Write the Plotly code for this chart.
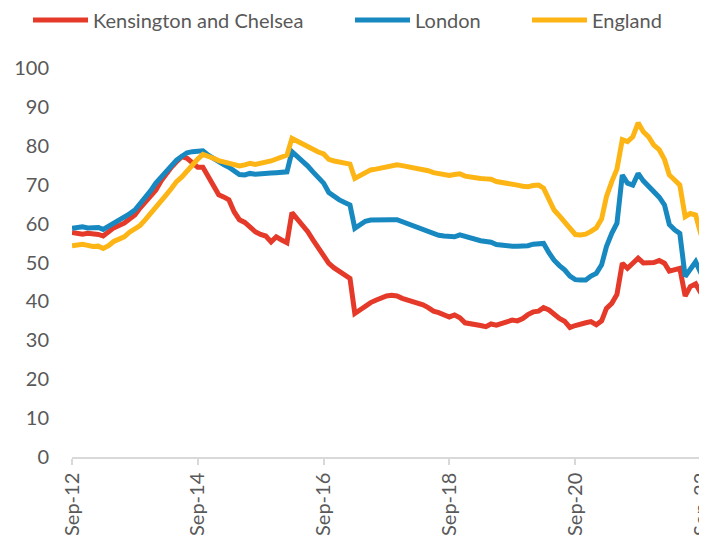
import pandas as pd
import plotly.graph_objects as go

start_month = "2012-09-01"
n_months = 121
tick_labels = ["Sep-12", "Sep-14", "Sep-16", "Sep-18", "Sep-20", "Sep-22"]
series_names = ["Kensington and Chelsea", "London", "England"]

kensington = [
    57.7, 57.5, 57.3, 57.5, 57.5, 57.2, 56.8, 57.8, 58.9, 59.5,
    60.1, 61.2, 62.2, 64.0, 65.6, 67.0, 68.6, 71.0, 72.9, 74.5,
    75.9, 77.2, 76.8, 75.5, 74.5, 74.5, 72.1, 70.0, 67.4, 66.8,
    66.1, 63.0, 61.0, 60.3, 59.0, 57.9, 57.2, 56.8, 55.3, 56.6,
    55.8, 55.1, 62.8, 61.2, 59.3, 57.9, 55.8, 53.6, 51.9, 49.8,
    48.6, 47.6, 46.7, 45.9, 36.9, 37.9, 38.9, 39.7, 40.3, 40.9,
    41.4, 41.6, 41.4, 40.8, 40.4, 40.0, 39.5, 39.1, 38.4, 37.5,
    37.1, 36.6, 36.0, 36.5, 35.8, 34.5, 34.3, 34.3, 33.8, 33.5,
    34.2, 33.9, 34.3, 35.0, 35.2, 35.0, 35.6, 36.6, 37.3, 37.5,
    38.4, 37.8, 36.7, 35.6, 34.9, 33.3, 33.8, 34.3, 34.5, 34.8,
    34.0, 35.0, 38.2, 39.5, 41.8, 49.8, 48.5, 49.8, 51.1, 49.9,
    49.8, 50.0, 50.5, 49.8, 47.8, 48.3, 48.5, 41.4, 43.8, 44.5,
    42.1,
]

london = [
    58.8, 59.0, 59.2, 58.9, 59.0, 59.0, 58.5, 59.3, 60.1, 60.8,
    61.4, 62.5, 63.5, 65.0, 66.5, 68.4, 70.4, 72.0, 73.5, 74.8,
    76.3, 77.3, 78.2, 78.5, 78.7, 78.7, 77.6, 76.7, 75.9, 75.1,
    74.5, 73.5, 72.6, 72.5, 72.9, 72.7, 72.7, 72.9, 73.0, 73.1,
    73.1, 73.3, 78.5, 77.3, 76.3, 74.8, 73.3, 71.8, 70.4, 68.0,
    66.9, 66.1, 65.4, 64.8, 58.8, 59.8, 60.6, 60.9, 61.0, 61.1,
    61.0, 61.0, 61.0, 60.5, 60.1, 59.6, 59.0, 58.4, 57.9, 57.3,
    57.0, 56.8, 56.7, 56.6, 57.1, 56.7, 56.2, 55.9, 55.6, 55.4,
    55.2, 54.6, 54.4, 54.3, 54.2, 54.2, 54.1, 54.3, 54.7, 54.9,
    54.9, 52.5, 50.6, 49.2, 48.1, 46.5, 45.6, 45.5, 45.5, 46.5,
    47.2, 49.4, 54.1, 57.5, 60.1, 72.5, 70.4, 69.9, 72.9, 71.0,
    69.5, 68.2, 66.8, 64.8, 59.8, 58.4, 57.5, 46.4, 48.5, 50.2,
    47.2,
]

england = [
    54.3, 54.5, 54.7, 54.4, 54.1, 54.2, 53.6, 54.3, 55.4, 56.0,
    56.6, 57.8, 58.6, 59.5, 61.0, 62.5, 64.0, 65.6, 67.3, 69.0,
    70.8, 72.0, 73.6, 75.0, 76.6, 77.8, 77.4, 76.8, 76.2, 75.8,
    75.4, 75.1, 74.8, 75.1, 75.5, 75.2, 75.4, 75.7, 76.1, 76.6,
    77.0, 77.6, 81.9, 81.2, 80.5, 79.6, 78.8, 78.4, 77.9, 76.5,
    76.1, 75.9, 75.8, 75.3, 71.6, 72.4, 73.2, 73.8, 74.0, 74.2,
    74.4, 74.8, 75.1, 74.9, 74.7, 74.5, 74.1, 73.8, 73.6, 73.1,
    72.9, 72.9, 72.4, 72.6, 72.8, 72.2, 71.9, 71.7, 71.6, 71.5,
    71.4, 70.8, 70.5, 70.3, 70.1, 69.9, 69.6, 69.5, 69.8, 69.9,
    69.1, 66.0, 63.5, 62.0, 60.5, 58.5, 57.2, 57.1, 57.3, 58.0,
    58.9, 61.2, 66.9, 70.8, 74.0, 81.6, 81.1, 82.3, 85.9, 83.6,
    82.3, 80.2, 79.0, 76.5, 72.5, 71.2, 69.9, 61.8, 62.6, 62.2,
    57.1,
]

colors = ["#E53A29", "#1789C0", "#FDB515"]

dates = pd.date_range(start_month, periods=n_months, freq="MS")
tick_dates = pd.date_range(start_month, periods=len(tick_labels), freq="24MS")

FONT = "Lato, 'DejaVu Sans', sans-serif"
GREY = "#595959"

# page body has an 8px default margin: figure is sized to end at the window edge
W, H = 699, 527

fig = go.Figure()
legend_ids = ["legend", "legend2", "legend3"]
for name, vals, col, lg in zip(series_names, [kensington, london, england], colors, legend_ids):
    fig.add_trace(go.Scatter(
        x=dates, y=vals, name=name, mode="lines",
        line=dict(color=col, width=5), legend=lg, showlegend=True,
    ))

legend_common = dict(
    orientation="h", xref="container", yref="container",
    yanchor="middle", y=1 - 12 / H, xanchor="left",
    font=dict(family=FONT, size=20, color=GREY),
    bgcolor="rgba(0,0,0,0)", itemwidth=55,
)

fig.update_layout(
    width=W, height=H,
    showlegend=True,
    margin=dict(l=64, r=6, t=60, b=78, autoexpand=False),
    paper_bgcolor="white", plot_bgcolor="white",
    font=dict(family=FONT, color=GREY),
    legend=dict(x=20 / W, **legend_common),
    legend2=dict(x=342 / W, **legend_common),
    legend3=dict(x=519 / W, **legend_common),
    xaxis=dict(
        range=[dates[0], dates[-1]], automargin=False,
        tickvals=list(tick_dates), ticktext=tick_labels,
        tickangle=-90, ticks="outside", ticklen=6, tickcolor="#D9D9D9", tickwidth=1.5,
        showline=True, linecolor="#D9D9D9", linewidth=1.5,
        showgrid=False, zeroline=False, ticklabeloverflow="allow",
        tickfont=dict(family=FONT, size=20, color=GREY),
    ),
    yaxis=dict(
        range=[0, 100], dtick=10, tick0=0, automargin=False,
        showgrid=False, zeroline=False, showline=False,
        ticks="", ticklabelstandoff=22,
        tickfont=dict(family=FONT, size=20, color=GREY),
    ),
)

fig.write_html("out.html")
